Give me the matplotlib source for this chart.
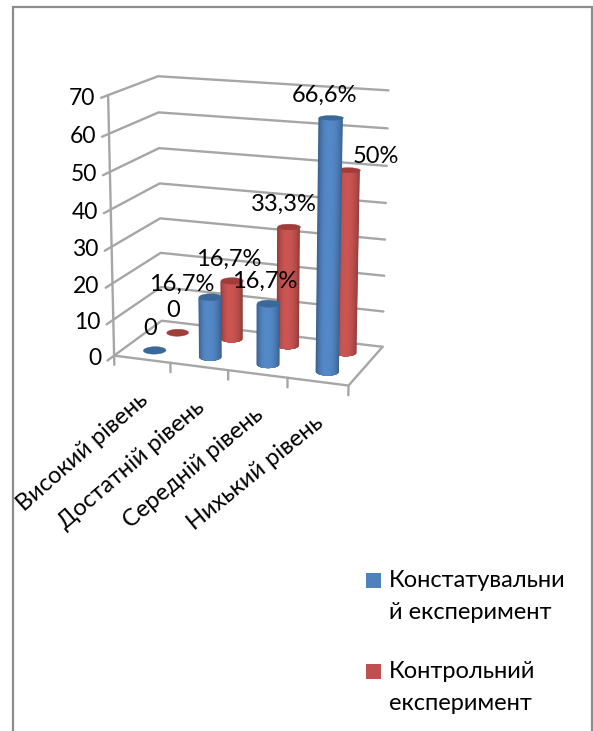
#==========#
# Imports  #
#==========#

import numpy as np
import matplotlib
matplotlib.use("Agg")
import matplotlib.pyplot as plt
from matplotlib.colors import to_rgb
from matplotlib.lines import Line2D
from matplotlib.patches import Rectangle
from matplotlib.transforms import offset_copy
from mpl_toolkits.mplot3d.art3d import Poly3DCollection

#======#
# Data #
#======#

categories = ["Високий рівень", "Достатній рівень", "Середній рівень", "Нихький рівень"]
series_names = ["Констатувальни\nй експеримент", "Контрольний\nексперимент"]
blue_values = [0, 16.7, 16.7, 66.6]
red_values = [0, 16.7, 33.3, 50]
blue_labels = ["0", "16,7%", "16,7%", "66,6%"]
red_labels = ["0", "16,7%", "33,3%", "50%"]
value_ticks = [0, 10, 20, 30, 40, 50, 60, 70]

#==================#
# Global variables #
#==================#

WIDTH, HEIGHT = 593, 731
BLUE = "#4F81BD"
RED = "#C0504D"
BLUE_TOP = "#3A6899"
RED_TOP = "#A03D3A"
GRID_COLOR = "#A6A6A6"
FRAME_COLOR = "#8C8C8C"
FONT = "Lato"
BOX_X, BOX_Y, BOX_Z = 1, 0.488, 1.0781
RADIUS = 0.0465
SHADE_STEPS = 14
BRIGHT_SPOT = -0.15


def to_fig(x, y):
    return x / WIDTH, 1 - y / HEIGHT


def shifted(ax, dx, dy):
    # text position in data space plus a shift in pixels
    return offset_copy(ax.transData, fig=ax.figure, x=dx, y=dy, units="dots")


def draw_cylinder(ax, x, y, value, color, top_color, order):
    """ Draws one upright cylinder: nested side bands, dark outside and bright inside. """
    rx = RADIUS * 4 / BOX_X
    ry = RADIUS * 2 / BOX_Y
    base = np.array(to_rgb(color))

    if value > 0:
        for k, t in enumerate(np.linspace(1.03, 0.04, SHADE_STEPS)):
            u0 = max(BRIGHT_SPOT - t * (1 + BRIGHT_SPOT), -1.0)
            u1 = min(BRIGHT_SPOT + t * (1 - BRIGHT_SPOT), 1.0)
            angles = np.radians(ax.azim) + np.linspace(np.arcsin(u0), np.arcsin(u1), 30)
            # a little past the silhouette for the outermost band
            if k == 0:
                angles = np.radians(ax.azim) + np.linspace(-np.pi * 0.52, np.pi * 0.52, 30)
            xs = x + rx * np.cos(angles)
            ys = y + ry * np.sin(angles)
            band = list(zip(xs, ys, np.zeros(30))) + list(zip(xs[::-1], ys[::-1], np.full(30, value)))
            shade = np.clip(base * (1.06 - 0.30 * t ** 2.4), 0, 1)
            side = Poly3DCollection([band], facecolors=[shade], edgecolors="none", linewidths=0)
            side.set_zorder(order + k * 0.01)
            ax.add_collection3d(side, autolim=False)

    circle = np.radians(np.linspace(0, 360, 60))
    cap = [list(zip(x + rx * np.cos(circle), y + ry * np.sin(circle), np.full(60, value)))]
    top = Poly3DCollection(cap, facecolors=top_color, edgecolors=top_color, linewidths=0.3)
    top.set_zorder(order + 0.5)
    ax.add_collection3d(top, autolim=False)


#========#
# Figure #
#========#

fig = plt.figure(figsize=(WIDTH / 100, HEIGHT / 100), dpi=100, facecolor="white")

left, right, top, bottom = 58.17, 430.70, 43.49, 416.03
ax = fig.add_axes([left / WIDTH, 1 - bottom / HEIGHT, (right - left) / WIDTH, (bottom - top) / HEIGHT],
                  projection="3d", computed_zorder=False)
ax.set_xlim(0, 4)
ax.set_ylim(0, 2)
ax.set_zlim(0, 70)
ax.view_init(14.658, -69.643)
ax.set_proj_type("persp", focal_length=0.7804)
ax.set_box_aspect((BOX_X, BOX_Y, BOX_Z))
ax.set_axis_off()
ax.patch.set_alpha(0)

#=================#
# Walls and floor #
#=================#

line_style = dict(color=GRID_COLOR, lw=1.7, zorder=1, solid_capstyle="round")
for v in value_ticks:
    ax.plot([0, 0, 4], [-0.26, 2, 2], [v, v, v], **line_style)
ax.plot([0, 0], [0, 0], [0, 70], **line_style)
ax.plot([0, 4, 4], [0, 0, 2], [0, 0, 0], **line_style)
for i in range(5):
    ax.plot([i, i], [0, 0], [0, -2.6], **line_style)

#===========#
# Cylinders #
#===========#

order = 2
for i in range(len(categories)):
    draw_cylinder(ax, i + 0.5, 1.5, red_values[i], RED, RED_TOP, order)
    order += 1
for i in range(len(categories)):
    draw_cylinder(ax, i + 0.5, 0.5, blue_values[i], BLUE, BLUE_TOP, order)
    order += 1

#========#
# Labels #
#========#

blue_shift = [(-4, 21), (-28, 12), (-4, 22), (-6, 22)]
red_shift = [(-4, 22), (-3, 21), (-5, 22), (28, 13)]
for i in range(len(categories)):
    ax.text(i + 0.5, 0.5, blue_values[i], blue_labels[i], ha="center", va="center", family=FONT,
            fontsize=17, color="black", zorder=20,
            transform=shifted(ax, *blue_shift[i]))
    ax.text(i + 0.5, 1.5, red_values[i], red_labels[i], ha="center", va="center", family=FONT,
            fontsize=17, color="black", zorder=20,
            transform=shifted(ax, *red_shift[i]))
    # the direction vector sets the on-screen slope of the category text
    ax.text(i + 0.5, 0, 0, categories[i], (0.05, 0, 0.78), rotation_mode="anchor", ha="right", va="center",
            family=FONT, fontsize=17, color="black", zorder=20,
            transform=shifted(ax, 3, -38))

for v in value_ticks:
    ax.text(0, 0, v, str(v), ha="right", va="center", family=FONT, fontsize=16.5,
            color="black", zorder=20, transform=shifted(ax, -13, -3))

#========#
# Legend #
#========#

for name, color, square_y, text_y in zip(series_names, [BLUE, RED], [573, 664], [596.5, 687.5]):
    fig.add_artist(Rectangle(to_fig(366, square_y + 15), 15 / WIDTH, 15 / HEIGHT,
                             transform=fig.transFigure, facecolor=color, edgecolor="none"))
    tx, ty = to_fig(389, text_y)
    fig.text(tx, ty, name, ha="left", va="center", family=FONT, fontsize=17, linespacing=1.7, color="black")

#=======#
# Frame #
#=======#

frame_x0 = to_fig(13, 0)[0]
frame_x1 = to_fig(591.5, 0)[0]
frame_y = to_fig(0, 7)[1]
fig.add_artist(Line2D([frame_x0, frame_x0, frame_x1, frame_x1], [0, frame_y, frame_y, 0],
                      color=FRAME_COLOR, lw=1.6, solid_joinstyle="miter"))

fig.savefig("out.png", dpi=100)
